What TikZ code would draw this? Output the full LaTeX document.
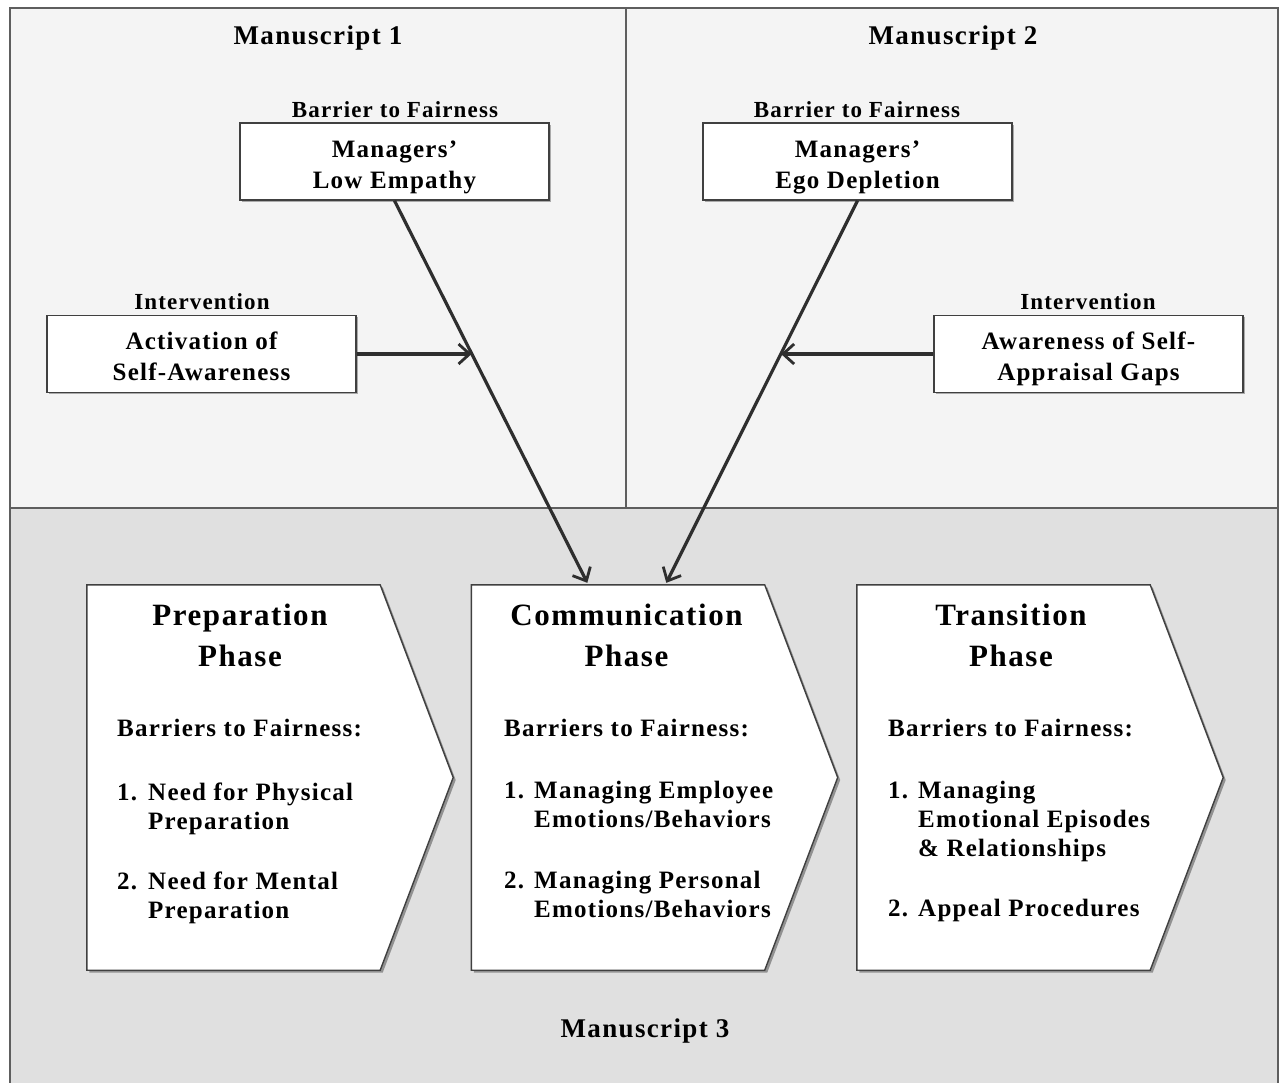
\documentclass[tikz,border=0pt]{standalone}
\usepackage{fontspec}
\setmainfont{Liberation Serif}[LetterSpace=5]
\usetikzlibrary{arrows.meta,calc,shadows}
\definecolor{topfill}{HTML}{F4F4F4}
\definecolor{botfill}{HTML}{E0E0E0}
\definecolor{panelline}{HTML}{5E5E5E}
\definecolor{boxline}{HTML}{404040}
\definecolor{arrowcol}{HTML}{2E2E2E}
\newcommand\boxlines[2]{\rule{0pt}{28pt}#1\\#2\rule[-5.5pt]{0pt}{5.5pt}}
\begin{document}
\begin{tikzpicture}[x=1pt,y=-1pt,
  panel/.style={draw=panelline,line width=1.5pt},
  ptitle/.style={font=\bfseries\fontsize{27}{31}\selectfont,inner sep=0pt},
  lab/.style={font=\bfseries\fontsize{23}{27}\selectfont,inner sep=0pt},
  box/.style={draw=boxline,fill=white,line width=1.4pt,minimum width=309,minimum height=77,
    align=center,inner sep=0pt,font=\bfseries\fontsize{25}{31}\selectfont,
    drop shadow={shadow xshift=1.5pt,shadow yshift=-1.5pt,opacity=0.3,fill=black}},
  chevbody/.style={minimum width=293,minimum height=385,inner sep=0pt},
  chev/.style={draw=boxline,fill=white,line width=1.4pt,line join=miter,
    drop shadow={shadow xshift=2.5pt,shadow yshift=-2.5pt,opacity=0.35,fill=black}},
  ctitle/.style={font=\bfseries\fontsize{31}{41}\selectfont,align=center,inner sep=0pt},
  clist/.style={font=\bfseries\fontsize{25}{29}\selectfont,inner sep=0pt,anchor=north west},
  arr/.style={draw=arrowcol,line width=3.2pt,-{Straight Barb[length=11pt,width=20pt,line width=2.8pt]}}
]
\useasboundingbox (0,0) rectangle (1281,1082);
% panels
\path[panel,fill=topfill] (10,8) rectangle (626,508);
\path[panel,fill=topfill] (626,8) rectangle (1278,508);
\path[panel,fill=botfill] (10,508) rectangle (1278,1090);

\node[ptitle] (m1) at (318,38) {Manuscript 1};
\node[ptitle] (m2) at (953,38) {Manuscript 2};
\node[ptitle] (m3) at (645,1031) {Manuscript 3};

% top boxes
\node[lab] (bar1) at (395,110) {Barrier to Fairness};
\node[box] (lowEmp) at (394.5,161.5) {\boxlines{Managers’}{Low Empathy}};
\node[lab] (bar2) at (857,110) {Barrier to Fairness};
\node[box] (egoDep) at (857.5,161.5) {\boxlines{Managers’}{Ego Depletion}};
\node[lab] (int1) at (202,302) {Intervention};
\node[box] (act) at (201.5,354) {\boxlines{Activation of}{Self-Awareness}};
\node[lab] (int2) at (1088,302) {Intervention};
\node[box] (awr) at (1088.5,354) {\boxlines{Awareness of Self-}{Appraisal Gaps}};

% chevrons
\node[chevbody] (prep) at (233.5,777.5) {};
\node[chevbody] (comm) at (618,777.5) {};
\node[chevbody] (trans) at (1003.5,777.5) {};
\foreach \c in {prep,comm,trans}{
  \path[chev] (\c.north west) -- (\c.north east) -- ($(\c.east)+(73,0)$)
    -- (\c.south east) -- (\c.south west) -- cycle;
}

\node[ctitle] (prepT) at (240,635) {Preparation\\Phase};
\node[ctitle] (commT) at (626.5,635) {Communication\\Phase};
\node[ctitle] (transT) at (1011,635) {Transition\\Phase};

\node[clist] (prepL) at (117,716) {\begin{tabular}{@{}p{31pt}@{}l@{}}
\multicolumn{2}{@{}l@{}}{Barriers to Fairness:}\\[35pt]
1. & Need for Physical\\
   & Preparation\\[31pt]
2. & Need for Mental\\
   & Preparation
\end{tabular}};
\node[clist] (commL) at (504,716) {\begin{tabular}{@{}p{30pt}@{}l@{}}
\multicolumn{2}{@{}l@{}}{Barriers to Fairness:}\\[33pt]
1. & Managing Employee\\
   & Emotions/Behaviors\\[32pt]
2. & Managing Personal\\
   & Emotions/Behaviors
\end{tabular}};
\node[clist] (transL) at (888,716) {\begin{tabular}{@{}p{30pt}@{}l@{}}
\multicolumn{2}{@{}l@{}}{Barriers to Fairness:}\\[33pt]
1. & Managing\\
   & Emotional Episodes\\
   & \& Relationships\\[31pt]
2. & Appeal Procedures
\end{tabular}};

% connectors
\coordinate (endA) at ($(comm.north west)+(116,-2)$);
\coordinate (endB) at ($(comm.north west)+(195,-2)$);
\path (lowEmp.south) -- coordinate[pos=0.4] (jA) (endA);
\path (egoDep.south) -- coordinate[pos=0.4] (jB) (endB);
\draw[arr] (lowEmp.south) -- (endA);
\draw[arr] (egoDep.south) -- (endB);
\draw[arr] (act.east) -- (act.east -| jA);
\draw[arr] (awr.west) -- (awr.west -| jB);
\end{tikzpicture}
\end{document}
